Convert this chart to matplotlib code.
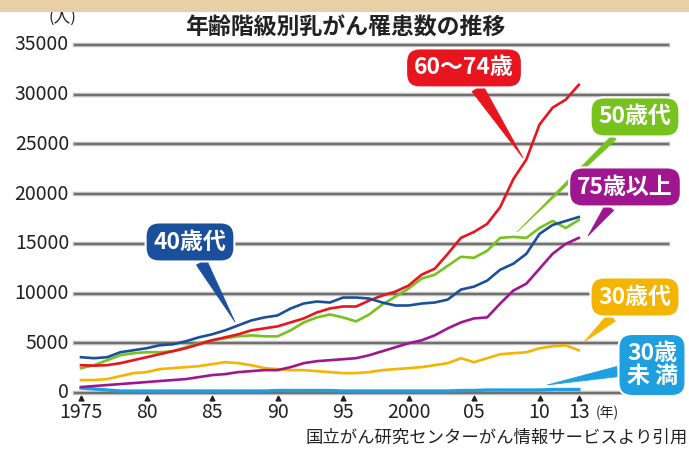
import numpy as np
import matplotlib.pyplot as plt
from matplotlib.patches import Rectangle

plt.rcParams['font.family'] = ['Noto Sans CJK JP', 'DejaVu Sans']

years = list(range(1975, 2014))

age_60_74 = [2800, 2750, 2800, 3000, 3300, 3600, 3900, 4200, 4500, 4900,
             5300, 5600, 5900, 6300, 6500, 6700, 7100, 7500, 8100, 8500,
             8700, 8700, 9300, 9800, 10200, 10800, 11900, 12500, 14000, 15600,
             16200, 17000, 18700, 21500, 23500, 27000, 28700, 29500, 31000]
age_50s = [2500, 2800, 3300, 3800, 4000, 4100, 4100, 4200, 4600, 5000,
           5300, 5500, 5700, 5800, 5700, 5700, 6300, 7100, 7600, 7900,
           7600, 7200, 7900, 8900, 9700, 10500, 11500, 11900, 12800, 13700,
           13600, 14300, 15600, 15700, 15600, 16600, 17300, 16600, 17400]
age_40s = [3600, 3500, 3600, 4100, 4300, 4500, 4800, 4900, 5200, 5600,
           5900, 6300, 6800, 7300, 7600, 7800, 8500, 9000, 9200, 9100,
           9600, 9600, 9500, 9100, 8800, 8800, 9000, 9100, 9400, 10400,
           10700, 11300, 12400, 13000, 14000, 16000, 16900, 17300, 17700]
age_75_up = [600, 700, 800, 900, 1000, 1100, 1200, 1300, 1400, 1600,
             1800, 1900, 2100, 2200, 2300, 2300, 2600, 3000, 3200, 3300,
             3400, 3500, 3800, 4200, 4600, 5000, 5300, 5800, 6500, 7100,
             7500, 7600, 9000, 10300, 11000, 12500, 14000, 15000, 15600]
age_30s = [1300, 1300, 1400, 1700, 2000, 2100, 2400, 2500, 2600, 2700,
           2900, 3100, 3000, 2800, 2500, 2400, 2300, 2300, 2200, 2100,
           2000, 2000, 2100, 2300, 2400, 2500, 2600, 2800, 3000, 3500,
           3100, 3500, 3900, 4000, 4100, 4500, 4700, 4800, 4300]
under_30 = [500, 400, 300, 200, 200, 200, 200, 200, 200, 200,
            200, 200, 200, 200, 200, 250, 250, 250, 250, 250,
            200, 200, 200, 200, 200, 200, 200, 200, 200, 250,
            250, 300, 300, 300, 300, 300, 350, 350, 350]

tick_years = [1975, 1980, 1985, 1990, 1995, 2000, 2005, 2010, 2013]
tick_labels = ['1975', '80', '85', '90', '95', '2000', '05', '10', '13']
y_ticks = [0, 5000, 10000, 15000, 20000, 25000, 30000, 35000]

W, H = 689, 450
fig = plt.figure(figsize=(W / 100, H / 100), dpi=100)
fig.patch.set_facecolor('white')

# blurry photo strip along the top
fig.patches.append(Rectangle((0, 1 - 12 / H), 1, 12 / H, transform=fig.transFigure,
                             fc='#e8cfa6', ec='none', zorder=0))

# axes area in pixels: x 75..668, y 45..393
x0, x1 = 75, 668
ytop, ybot = 45, 393
ax = fig.add_axes([x0 / W, 1 - ybot / H, (x1 - x0) / W, (ybot - ytop) / H])
ax.set_xlim(1975 - 6 / 13.1, 1975 + (x1 - 81) / 13.1)
ax.set_ylim(0, 35000)
ax.axis('off')


def px(x, y):
    return 1975 + (x - 81) / 13.1, (393 - y) * 100.6


for v in y_ticks:
    ax.axhline(v, color='#bdbdbd', lw=3.2, zorder=1, clip_on=False)
    ax.axhline(v, color='#6e6e6e', lw=1.4, zorder=1, clip_on=False)
    ax.text(-0.01, v, str(v), transform=ax.get_yaxis_transform(), ha='right',
            va='center', fontsize=14, color='#222222')
ax.text(*px(62, 17), '(人)', ha='center', va='center', fontsize=12,
        color='#222222', clip_on=False)

for yr, lab in zip(tick_years, tick_labels):
    ax.plot(yr, -550, marker='^', color='#222222', ms=3.5, clip_on=False)
    ax.text(yr, -2000, lab, ha='center', va='center', fontsize=14, color='#222222')
ax.text(2014.3, -2000, '(年)', ha='left', va='center', fontsize=10, color='#222222')

series = [
    (under_30, '#1ea0e0'),
    (age_30s, '#f5b400'),
    (age_75_up, '#a0168e'),
    (age_50s, '#78c21e'),
    (age_60_74, '#e8141e'),
    (age_40s, '#1a4f9c'),
]
for vals, col in series:
    lw = 2.4 if col == '#1ea0e0' else 1.9
    ax.plot(years, vals, color=col, lw=lw, zorder=3, solid_joinstyle='round')


labels = [
    ('60〜74歳', '#e8141e', (464, 68), (523, 158), 0.55),
    ('50歳代', '#78c21e', (635, 117), (517, 232), 0.25),
    ('75歳以上', '#a0168e', (625, 187), (588, 236), 0.45),
    ('30歳代', '#f5b400', (635, 297), (584, 342), 0.45),
    ('30歳\n未 満', '#1ea0e0', (652, 365), (547, 385), 0.45),
    ('40歳代', '#1a4f9c', (190, 242), (235, 322), 0.5),
]
for text, col, c, tip, tw in labels:
    ax.annotate(text, xy=px(*tip), xytext=px(*c), ha='center', va='center',
                fontsize=16.5, fontweight='bold', color='white', linespacing=1.0,
                bbox=dict(boxstyle='round,pad=0.35,rounding_size=0.6', fc=col, ec='white', lw=1.5),
                arrowprops=dict(arrowstyle='wedge,tail_width=%s' % tw, fc=col, ec=col, lw=0.5,
                                shrinkA=0, shrinkB=0),
                zorder=5, annotation_clip=False)

fig.text(345 / W, 1 - 28 / H, '年齢階級別乳がん罹患数の推移', ha='center', va='center',
         fontsize=16.5, fontweight='bold', color='#222222')
fig.text(688 / W, 1 - 438 / H, '国立がん研究センターがん情報サービスより引用', ha='right',
         va='center', fontsize=12.5, color='#222222')

fig.savefig('out.png', dpi=100)
